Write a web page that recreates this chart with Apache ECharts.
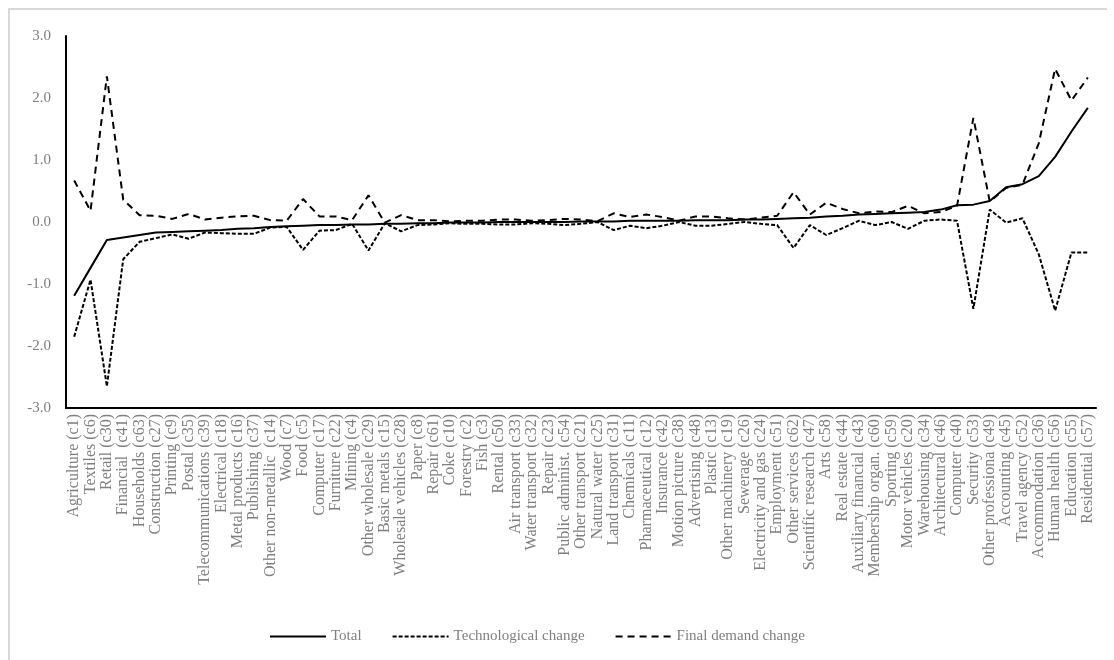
<!DOCTYPE html>
<html>
<head>
<meta charset="utf-8">
<script src="https://cdn.jsdelivr.net/npm/echarts@6/dist/echarts.min.js"></script>
<style>
  html, body { margin: 0; padding: 0; background: #fff; }
  #frame { position: absolute; left: 8px; top: 8px; width: 1097px; height: 670px;
           border-top: 2px solid #d9d9d9; border-left: 2px solid #d9d9d9; }
  #chart { position: absolute; left: 0; top: 0; width: 1114px; height: 660px; }
</style>
</head>
<body>
<div id="frame"></div>
<div id="chart"></div>
<script>
const categories = [
  "Agriculture (c1)", "Textiles (c6)", "Retail (c30)", "Financial  (c41)", "Households (c63)",
  "Construction (c27)", "Printing (c9)", "Postal (c35)", "Telecommunications (c39)", "Electrical (c18)",
  "Metal products (c16)", "Publishing (c37)", "Other non-metallic  (c14)", "Wood (c7)", "Food (c5)",
  "Computer (c17)", "Furniture (c22)", "Mining (c4)", "Other wholesale (c29)", "Basic metals (c15)",
  "Wholesale vehicles (c28)", "Paper (c8)", "Repair (c61)", "Coke (c10)", "Forestry (c2)",
  "Fish (c3)", "Rental (c50)", "Air transport (c33)", "Water transport (c32)", "Repair (c23)",
  "Public administ. (c54)", "Other transport (c21)", "Natural water (c25)", "Land transport (c31)", "Chemicals (c11)",
  "Pharmaceutical (c12)", "Insurance (c42)", "Motion picture (c38)", "Advertising (c48)", "Plastic (c13)",
  "Other machinery (c19)", "Sewerage (c26)", "Electricity and gas (c24)", "Employment (c51)", "Other services (c62)",
  "Scientific research (c47)", "Arts (c58)", "Real estate (c44)", "Auxiliary financial (c43)", "Membership organ. (c60)",
  "Sporting (c59)", "Motor vehicles (c20)", "Warehousing (c34)", "Architectural (c46)", "Computer (c40)",
  "Security (c53)", "Other professiona (c49)", "Accounting (c45)", "Travel agency (c52)", "Accommodation (c36)",
  "Human health (c56)", "Education (c55)", "Residential (c57)"
];

const total = [
  -1.19, -0.74, -0.29, -0.25, -0.21, -0.17, -0.16, -0.15, -0.14, -0.13,
  -0.11, -0.10, -0.08, -0.07, -0.06, -0.05, -0.05, -0.04, -0.04, -0.03,
  -0.03, -0.02, -0.02, -0.01, -0.01, -0.01, 0.00, 0.00, 0.00, 0.00,
  0.00, 0.01, 0.01, 0.01, 0.02, 0.02, 0.02, 0.02, 0.03, 0.03,
  0.03, 0.04, 0.04, 0.05, 0.06, 0.07, 0.09, 0.10, 0.12, 0.13,
  0.14, 0.15, 0.16, 0.20, 0.27, 0.28, 0.34, 0.56, 0.61, 0.74,
  1.05, 1.46, 1.84
];

const technological = [
  -1.85, -0.93, -2.65, -0.60, -0.32, -0.26, -0.20, -0.27, -0.17, -0.18,
  -0.19, -0.19, -0.09, -0.08, -0.45, -0.14, -0.13, -0.03, -0.46, -0.02,
  -0.15, -0.05, -0.04, -0.02, -0.03, -0.03, -0.04, -0.04, -0.02, -0.03,
  -0.05, -0.03, 0.00, -0.13, -0.06, -0.10, -0.06, 0.00, -0.06, -0.06,
  -0.03, 0.00, -0.03, -0.05, -0.42, -0.05, -0.21, -0.10, 0.02, -0.05,
  0.00, -0.11, 0.02, 0.04, 0.02, -1.40, 0.20, -0.01, 0.06, -0.52,
  -1.43, -0.49, -0.49
];

const finalDemand = [
  0.67, 0.18, 2.35, 0.36, 0.11, 0.10, 0.05, 0.13, 0.04, 0.07,
  0.09, 0.10, 0.03, 0.02, 0.37, 0.09, 0.09, 0.03, 0.43, -0.01,
  0.11, 0.03, 0.03, 0.01, 0.02, 0.02, 0.04, 0.04, 0.02, 0.03,
  0.05, 0.04, 0.01, 0.14, 0.08, 0.12, 0.08, 0.02, 0.09, 0.09,
  0.06, 0.04, 0.07, 0.10, 0.48, 0.12, 0.31, 0.21, 0.14, 0.17,
  0.16, 0.26, 0.14, 0.16, 0.26, 1.68, 0.33, 0.55, 0.60, 1.27,
  2.47, 1.96, 2.33
];

const yTicks = { min: -3, max: 3, interval: 1 };

const textColor = '#7f7f7f';
const serif = '"Liberation Serif", "DejaVu Serif", serif';

const chart = echarts.init(document.getElementById('chart'), null, { renderer: 'canvas' });
chart.setOption({
  backgroundColor: 'transparent',
  animation: false,
  grid: { left: 66, right: 18, top: 36, bottom: 252, containLabel: false },
  legend: {
    left: 264,
    top: 624,
    itemWidth: 56,
    itemHeight: 10,
    itemGap: 30,
    itemStyle: { color: 'rgba(0,0,0,0)', borderColor: 'rgba(0,0,0,0)', borderWidth: 0 },
    textStyle: { color: textColor, fontFamily: serif, fontSize: 15 },
    data: ['Total', 'Technological change', 'Final demand change']
  },
  xAxis: {
    type: 'category',
    data: categories,
    boundaryGap: true,
    axisLine: { onZero: false, lineStyle: { color: '#000', width: 2 } },
    axisTick: { show: false },
    axisLabel: {
      interval: 0, rotate: 90, margin: 6,
      color: textColor, fontFamily: serif, fontSize: 16
    },
    splitLine: { show: false }
  },
  yAxis: {
    type: 'value',
    min: yTicks.min, max: yTicks.max, interval: yTicks.interval,
    axisLine: { show: true, lineStyle: { color: '#000', width: 2 } },
    axisTick: { show: false },
    splitLine: { show: false },
    axisLabel: {
      margin: 15, color: textColor, fontFamily: serif, fontSize: 15,
      formatter: v => v.toFixed(1)
    }
  },
  series: [
    {
      name: 'Total', type: 'line', data: total, symbol: 'none',
      lineStyle: { color: '#000', width: 2, type: 'solid' },
      itemStyle: { color: '#000' }
    },
    {
      name: 'Technological change', type: 'line', data: technological, symbol: 'none',
      lineStyle: { color: '#000', width: 2, type: [4, 2] },
      itemStyle: { color: '#000' }
    },
    {
      name: 'Final demand change', type: 'line', data: finalDemand, symbol: 'none',
      lineStyle: { color: '#000', width: 2, type: [7, 5] },
      itemStyle: { color: '#000' }
    }
  ]
});
</script>
</body>
</html>
